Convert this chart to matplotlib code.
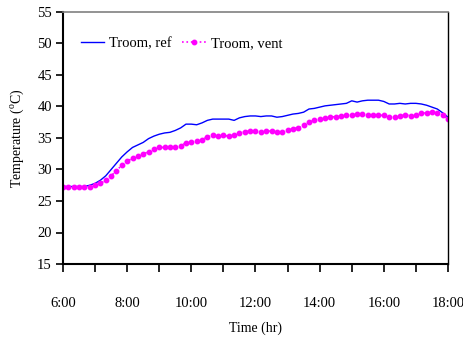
import numpy as np
import matplotlib
matplotlib.use("Agg")
import matplotlib.pyplot as plt
from matplotlib.ticker import MultipleLocator

plt.rcParams['font.family'] = ['Liberation Serif', 'DejaVu Serif']
plt.rcParams['mathtext.fontset'] = 'custom'
plt.rcParams['mathtext.rm'] = 'Liberation Serif'

# time in hours, every 10 minutes from 6:00 to 18:00
hours = np.arange(73) / 6.0 + 6.0

troom_ref = [27.3, 27.3, 27.3, 27.3, 27.3, 27.5, 27.8, 28.3, 29.0, 30.0,
             31.0, 32.0, 32.8, 33.5, 33.9, 34.3, 34.9, 35.3, 35.6, 35.8,
             35.9, 36.2, 36.6, 37.2, 37.2, 37.1, 37.4, 37.8, 38.0, 38.0,
             38.0, 38.0, 37.8, 38.2, 38.4, 38.5, 38.5, 38.4, 38.5, 38.5,
             38.3, 38.4, 38.6, 38.8, 38.9, 39.1, 39.6, 39.7, 39.9, 40.1,
             40.2, 40.3, 40.4, 40.5, 40.9, 40.7, 40.9, 41.0, 41.0, 41.0,
             40.8, 40.4, 40.4, 40.5, 40.4, 40.5, 40.5, 40.4, 40.2, 39.9,
             39.6, 39.0, 38.3]

troom_vent = [27.2, 27.2, 27.2, 27.2, 27.2, 27.3, 27.5, 27.8, 28.3, 29.0,
              29.8, 30.7, 31.3, 31.8, 32.2, 32.5, 32.8, 33.3, 33.5, 33.5,
              33.5, 33.5, 33.8, 34.2, 34.3, 34.5, 34.7, 35.2, 35.4, 35.3,
              35.4, 35.3, 35.5, 35.8, 36.0, 36.1, 36.1, 36.0, 36.1, 36.1,
              35.9, 36.0, 36.3, 36.5, 36.6, 37.0, 37.5, 37.8, 38.0, 38.1,
              38.3, 38.4, 38.5, 38.6, 38.7, 38.8, 38.8, 38.7, 38.7, 38.6,
              38.6, 38.4, 38.3, 38.5, 38.7, 38.5, 38.7, 38.9, 39.0, 39.1,
              38.9, 38.7, 38.0]

xtick_pos = list(range(6, 19, 2))
xtick_labels = ['6:00', '8:00', '10:00', '12:00', '14:00', '16:00', '18:00']

fig = plt.figure(figsize=(4.64, 3.37), dpi=100)
ax = fig.add_axes([63/464, 1 - 264/337, (448-63)/464, (264-12)/337])

ax.plot(hours, troom_ref, color='#0000ff', lw=1.0, label='Troom, ref')
ax.plot(hours, troom_vent, color='#ff00ff', lw=1.2, ls=':', marker='o',
        ms=3.2, mec='#ff00ff', mfc='#ff00ff', label='Troom, vent')

ax.set_xlim(6, 18)
ax.set_ylim(15, 55)
ax.set_xticks(xtick_pos)
ax.set_xticklabels(xtick_labels)
ax.xaxis.set_minor_locator(MultipleLocator(1))
ax.tick_params(axis='x', which='major', direction='out', length=6, width=1.2,
               pad=18, labelsize=10.5)
ax.tick_params(axis='x', which='minor', direction='out', length=6, width=1.2)
ax.set_yticks(range(15, 56, 5))
ax.tick_params(axis='y', direction='out', length=5, width=1.2, labelsize=10.5, pad=3)

for s in ['left', 'bottom']:
    ax.spines[s].set_linewidth(1.5)
    ax.spines[s].set_color('black')
ax.spines['right'].set_linewidth(1.0)
ax.spines['right'].set_color('black')
ax.spines['top'].set_linewidth(1.2)
ax.spines['top'].set_color('#808080')

ax.set_xlabel('Time (hr)', fontsize=10, labelpad=8)
ax.set_ylabel('Temperature ($^\\mathregular{o}$C)', fontsize=10, labelpad=8)

leg = ax.legend(loc='upper left', ncol=2, frameon=False, fontsize=10.5,
                bbox_to_anchor=(0.02, 0.94), handlelength=1.6, columnspacing=0.7,
                handletextpad=0.35, borderaxespad=0.3, numpoints=1)

fig.savefig('out.png', dpi=100)
